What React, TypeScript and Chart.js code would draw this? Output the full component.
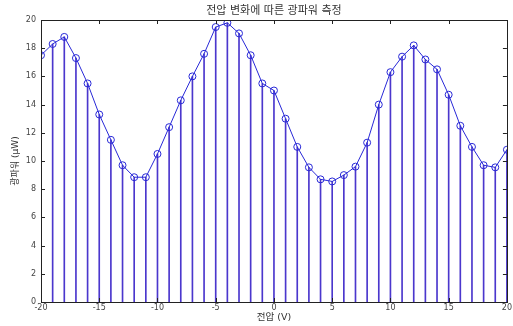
import React, { useEffect, useRef } from "react";
import { Chart, registerables } from "chart.js";

Chart.register(...registerables);

const voltages = [-20,-19,-18,-17,-16,-15,-14,-13,-12,-11,-10,-9,-8,-7,-6,-5,-4,-3,-2,-1,0,1,2,3,4,5,6,7,8,9,10,11,12,13,14,15,16,17,18,19,20];
const power = [17.5,18.3,18.8,17.3,15.5,13.3,11.5,9.7,8.85,8.85,10.5,12.4,14.3,16.0,17.6,19.5,19.8,19.05,17.5,15.5,15.0,13.0,11.0,9.55,8.7,8.55,9.0,9.6,11.3,14.0,16.3,17.4,18.2,17.2,16.5,14.7,12.5,11.0,9.7,9.55,10.8];
const xTicks = [-20,-15,-10,-5,0,5,10,15,20];
const yTicks = [0,2,4,6,8,10,12,14,16,18,20];
const titleText = "전압 변화에 따른 광파워 측정";
const xLabel = "전압 (V)";
const yLabel = "광파워 (μW)";

const FONT = "'DejaVu Sans', 'Noto Sans CJK KR', sans-serif";

const boxPlugin = {
  id: "boxTicks",
  afterDatasetsDraw(chart: any) {
    const { ctx, chartArea: a, scales } = chart;
    ctx.save();
    ctx.strokeStyle = "#222";
    ctx.lineWidth = 1;
    ctx.strokeRect(Math.round(a.left) + 0.5, Math.round(a.top) + 0.5, Math.round(a.right - a.left), Math.round(a.bottom - a.top));
    const L = 4;
    ctx.beginPath();
    for (const v of xTicks) {
      const px = Math.round(scales.x.getPixelForValue(v)) + 0.5;
      ctx.moveTo(px, a.bottom); ctx.lineTo(px, a.bottom - L);
      ctx.moveTo(px, a.top); ctx.lineTo(px, a.top + L);
    }
    for (const v of yTicks) {
      const py = Math.round(scales.y.getPixelForValue(v)) + 0.5;
      ctx.moveTo(a.left, py); ctx.lineTo(a.left + L, py);
      ctx.moveTo(a.right, py); ctx.lineTo(a.right - L, py);
    }
    ctx.stroke();
    // title centred over the plot area
    ctx.fillStyle = "#333";
    ctx.font = `11px ${FONT}`;
    ctx.textAlign = "center";
    ctx.textBaseline = "middle";
    ctx.fillText(titleText, (a.left + a.right) / 2, 11);
    ctx.restore();
  },
};

export default function App() {
  const ref = useRef<HTMLCanvasElement>(null);
  useEffect(() => {
    const pts = voltages.map((v, i) => ({ x: v, y: power[i] }));
    const chart = new Chart(ref.current!, {
      type: "bar",
      data: {
        datasets: [
          {
            type: "line",
            data: pts,
            borderColor: "rgb(40,40,215)",
            borderWidth: 1,
            pointStyle: "circle",
            pointRadius: 3.5,
            pointBorderWidth: 1,
            pointBorderColor: "rgb(40,40,215)",
            pointBackgroundColor: "rgba(0,0,0,0)",
            tension: 0,
            order: 0,
          } as any,
          {
            type: "bar",
            data: pts,
            backgroundColor: "rgb(75,55,205)",
            barThickness: 1,
            grouped: false,
            order: 1,
          } as any,
        ],
      },
      options: {
        animation: false,
        responsive: false,
        maintainAspectRatio: false,
        layout: { padding: { left: 0, right: 3, top: 20, bottom: 0 } },
        plugins: {
          legend: { display: false },
          tooltip: { enabled: false },
          title: { display: false },
        },
        scales: {
          x: {
            type: "linear",
            min: -20,
            max: 20,
            offset: false,
            grid: { display: false, drawTicks: false },
            border: { display: false },
            afterBuildTicks: (s: any) => { s.ticks = xTicks.map((v) => ({ value: v })); },
            ticks: { color: "#444", font: { family: FONT, size: 8 }, padding: 1, maxRotation: 0, autoSkip: false },
            title: { display: true, text: xLabel, color: "#333", font: { family: FONT, size: 9.5 }, padding: { top: 0, bottom: 3 } },
            afterFit: (s: any) => { s.height = 24; },
          },
          y: {
            min: 0,
            max: 20,
            grid: { display: false, drawTicks: false },
            border: { display: false },
            afterBuildTicks: (s: any) => { s.ticks = yTicks.map((v) => ({ value: v })); },
            ticks: { color: "#444", font: { family: FONT, size: 8 }, padding: 5 },
            title: { display: true, text: yLabel, color: "#333", font: { family: FONT, size: 9 }, padding: { top: 10, bottom: 0 } },
            afterFit: (s: any) => { s.width = 41; },
          },
        },
      },
      plugins: [boxPlugin],
    });
    return () => chart.destroy();
  }, []);
  return (
    <div style={{ position: "fixed", left: 0, top: 0, width: 513, height: 326, background: "#fff" }}>
      <canvas ref={ref} width={513} height={326} style={{ width: 513, height: 326, display: "block" }} />
    </div>
  );
}
